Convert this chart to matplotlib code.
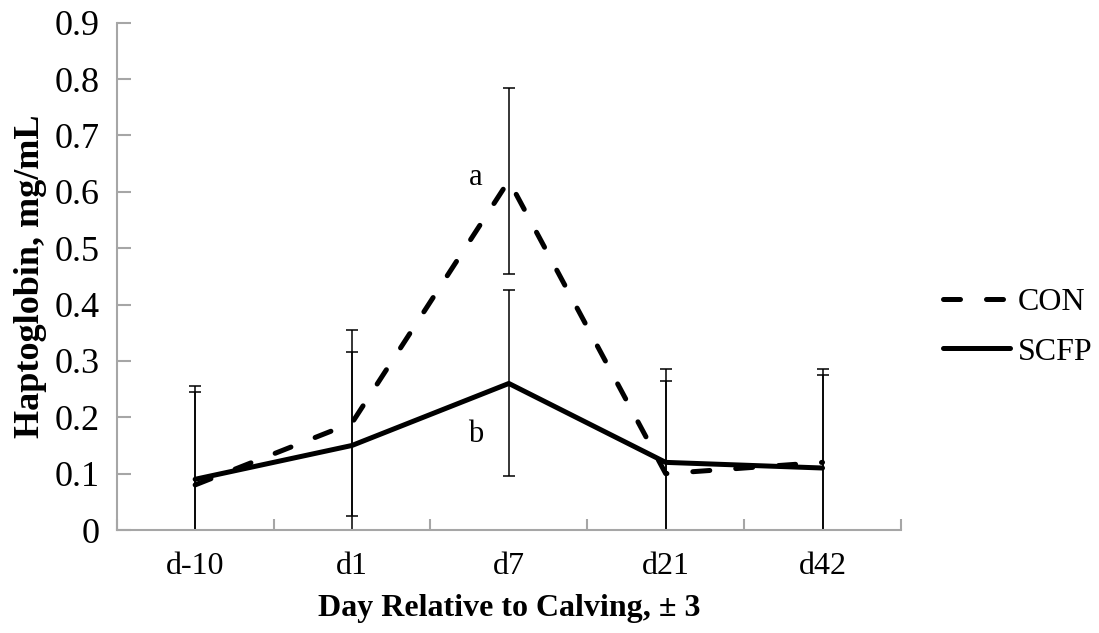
import matplotlib
matplotlib.use("Agg")
import matplotlib.pyplot as plt
import numpy as np

# Haptoglobin by day relative to calving
days = ["d-10", "d1", "d7", "d21", "d42"]
con_mean = [0.08, 0.19, 0.62, 0.10, 0.12]
scfp_mean = [0.09, 0.15, 0.26, 0.12, 0.11]
con_se = [0.165, 0.165, 0.165, 0.165, 0.165]
scfp_se = [0.165, 0.165, 0.165, 0.165, 0.165]

# significance letters at d7
sig_letters = ["a", "b"]
sig_y = [0.625, 0.17]

axis_grey = "#a6a6a6"
plt.rcParams["font.family"] = ["Liberation Serif", "DejaVu Serif"]
plt.rcParams["font.size"] = 23

fig = plt.figure(figsize=(10.99, 6.33), dpi=100)
ax = fig.add_axes([0.1062, 0.1627, 0.7136, 0.8014])

x = np.arange(len(days)) + 0.5

ax.plot(x, con_mean, color="black", lw=3.6, linestyle=(0, (3.4, 5.2)),
        dash_capstyle="round", solid_joinstyle="round", label="CON", zorder=3)
ax.plot(x, scfp_mean, color="black", lw=3.6, solid_capstyle="round",
        solid_joinstyle="round", label="SCFP", zorder=3)

ax.errorbar(x, con_mean, yerr=con_se, fmt="none", ecolor="black",
            elinewidth=1.1, capsize=4, capthick=1.1, zorder=2)
ax.errorbar(x, scfp_mean, yerr=scfp_se, fmt="none", ecolor="black",
            elinewidth=1.1, capsize=4, capthick=1.1, zorder=2)

for letter, yv in zip(sig_letters, sig_y):
    ax.text(x[2] - 0.21, yv, letter, ha="center", va="center", fontsize=22)

ax.set_xlim(0, len(days))
ax.set_ylim(0, 0.9)
yticks = np.arange(0, 0.91, 0.1).round(1)
ax.set_yticks(yticks)
ax.set_yticklabels([f"{v:g}" for v in yticks], fontsize=26)

# boundary ticks on the category axis, labels centred between them
ax.set_xticks(np.arange(len(days) + 1))
ax.set_xticklabels([])
ax.set_xticks(x, minor=True)
ax.set_xticklabels(days, minor=True, fontsize=23)
ax.tick_params(axis="x", which="major", direction="in", length=8,
               width=1.5, color=axis_grey)
ax.tick_params(axis="x", which="minor", length=0, pad=16)
ax.tick_params(axis="y", direction="in", length=10, width=1.5,
               color=axis_grey, pad=12.5)

for side in ["top", "right"]:
    ax.spines[side].set_visible(False)
for side in ["left", "bottom"]:
    ax.spines[side].set_color(axis_grey)
    ax.spines[side].set_linewidth(1.5)

ax.set_xlabel("Day Relative to Calving, ± 3", fontweight="bold",
              fontsize=23, labelpad=9)
ax.set_ylabel("Haptoglobin, mg/mL", fontweight="bold", fontsize=26,
              labelpad=5)

fig.legend(loc="center left", bbox_to_anchor=(0.858, 0.4834), frameon=False,
           fontsize=23, handlelength=2.1, handletextpad=0.25,
           labelspacing=0.64, borderpad=0, borderaxespad=0)

fig.savefig("out.png", dpi=100)
